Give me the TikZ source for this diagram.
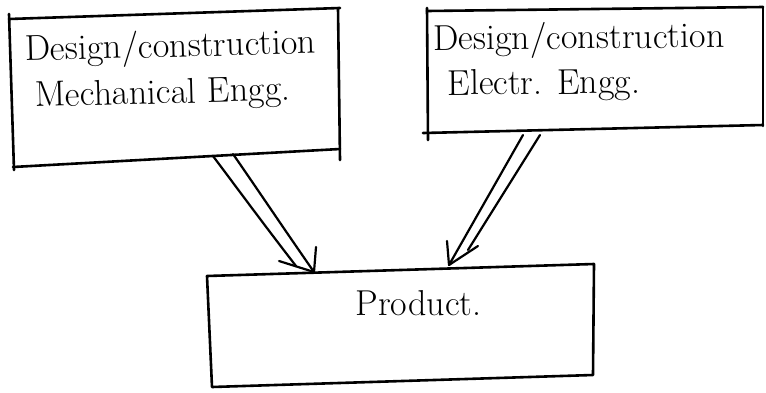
\documentclass[tikz,border=0pt]{standalone}
\usetikzlibrary{calc}
\begin{document}
\begin{tikzpicture}[x=0.5pt, y=-0.5pt,
  pen/.style={line width=1.3pt, line cap=round, line join=round},
  shaft/.style={line width=1.1pt, line cap=round, line join=round},
  label/.style={anchor=base west, inner sep=0pt, font=\fontsize{18}{21}\selectfont}]
\useasboundingbox (0,0) rectangle (766,392);

% mechanical engineering box
\draw[pen] (9,14) -- (14,170);
\draw[pen] (9,19) -- (340,8);
\draw[pen] (338,8) -- (340,160);
\draw[pen] (13,167) -- (340,149);

% electrical engineering box
\draw[pen] (427,8) -- (428,140);
\draw[pen] (427,11) -- (763,7);
\draw[pen] (763,7) -- (763,126);
\draw[pen] (423,133) -- (763,125);

% product box
\draw[pen] (207,276) -- (594,264) -- (593,375) -- (212,387) -- cycle;

% box texts
\node[label, rotate=1.5] (mechA) at (25,61) {Design/construction};
\node[label, rotate=1.5] (mechB) at (35,107) {Mechanical Engg.};
\node[label, rotate=0.5] (elecA) at (433,50) {Design/construction};
\node[label, rotate=0.5] (elecB) at (447,95) {Electr. Engg.};
\node[label] (prod) at (355,315) {Product.};

% double arrow from the mechanical box
\coordinate (mA) at (213,156);
\coordinate (mB) at (233,154);
\coordinate (mEnd) at (296,266);
\coordinate (mTip) at (314,272);
\coordinate (mBarbL) at (279,261);
\coordinate (mBarbR) at (316,247);
\draw[shaft] (mA) .. controls (240,192) and (262,222) .. (mEnd);
\draw[shaft] (mB) .. controls (258,190) and (282,226) .. (mTip);
\draw[shaft] (mBarbL) -- (mTip) -- (mBarbR);

% double arrow from the electrical box
\coordinate (eA) at (523,135);
\coordinate (eB) at (540,135);
\coordinate (eEnd) at (468,250);
\coordinate (eTip) at (449,265);
\coordinate (eBarbR) at (478,246);
\coordinate (eBarbL) at (447,241);
\draw[shaft] (eA) -- (eTip);
\draw[shaft] (eB) -- (eEnd);
\draw[shaft] (eBarbR) -- (eTip) -- (eBarbL);
\end{tikzpicture}
\end{document}
